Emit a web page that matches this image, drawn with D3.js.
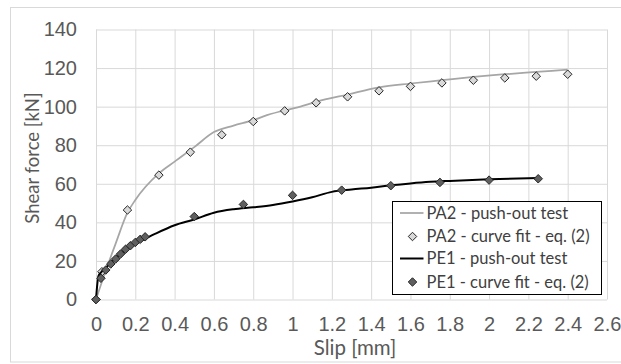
<!DOCTYPE html>
<html>
<head>
<meta charset="utf-8">
<script src="https://cdn.jsdelivr.net/npm/d3@7"></script>
<style>
  body { margin: 0; background: #fff; }
  svg { font-family: Lato, "Open Sans", sans-serif; }
</style>
</head>
<body>
<div class="chart"></div>
<script>
// data
const yTicks = [0, 20, 40, 60, 80, 100, 120, 140];
const xTicks = [0, 0.2, 0.4, 0.6, 0.8, 1, 1.2, 1.4, 1.6, 1.8, 2, 2.2, 2.4, 2.6];

// PA2 push-out test (measured curve)
const pa2TestSlip  = [0, 0.05, 0.1, 0.16, 0.2, 0.32, 0.4, 0.5, 0.6, 0.7, 0.8, 0.87, 1.04, 1.12, 1.28, 1.44, 1.6, 1.76, 1.92, 2.08, 2.24, 2.4];
const pa2TestForce = [0, 15, 29, 45, 51.6, 65.4, 71.5, 79, 86.8, 90.2, 93, 95.6, 100, 102.5, 106.3, 110, 112, 113.7, 115.4, 116.8, 118, 119.2];
// PA2 curve fit eq. (2)
const pa2FitSlip  = [0, 0.03, 0.16, 0.32, 0.48, 0.64, 0.8, 0.96, 1.12, 1.28, 1.44, 1.6, 1.76, 1.92, 2.08, 2.24, 2.4];
const pa2FitForce = [0, 14.4, 46.4, 64.5, 76.4, 85.4, 92.3, 97.8, 102, 105.1, 108.2, 110.5, 112.3, 113.7, 114.9, 115.8, 116.8];

// PE1 push-out test (measured curve)
const pe1TestSlip  = [0, 0.012, 0.025, 0.05, 0.1, 0.15, 0.2, 0.25, 0.3, 0.4, 0.5, 0.6, 0.7, 0.8, 0.9, 1.0, 1.1, 1.2, 1.3, 1.4, 1.5, 1.6, 1.7, 1.8, 2.0, 2.25];
const pe1TestForce = [0, 12, 14, 16.5, 21.5, 25.5, 29, 31.5, 34, 38.5, 41.5, 45, 46.8, 47.8, 49, 50.8, 53, 55.8, 57, 58, 59.2, 60.2, 61, 61.5, 62.3, 63];
// PE1 curve fit eq. (2)
const pe1FitSlip  = [0, 0.025, 0.05, 0.075, 0.1, 0.125, 0.15, 0.175, 0.2, 0.225, 0.25, 0.5, 0.75, 1.0, 1.25, 1.5, 1.75, 2.0, 2.25];
const pe1FitForce = [0, 11, 15.3, 18.4, 21, 23.6, 26, 27.9, 29.6, 31.2, 32.5, 43, 49.3, 54, 56.7, 59, 60.7, 61.9, 62.6];

const legendLabels = ['PA2 - push-out test', 'PA2 - curve fit - eq. (2)', 'PE1 - push-out test', 'PE1 - curve fit - eq. (2)'];

const zip = (xs, ys) => xs.map((x, i) => ({ x: x, y: ys[i] }));

const width = 621, height = 364;
const margin = { top: 29.5, right: 14, bottom: 64.5, left: 96 };
const innerW = width - margin.left - margin.right;
const innerH = height - margin.top - margin.bottom;

const svg = d3.select('.chart').append('svg')
    .attr('width', width).attr('height', height);

// outer chart border
svg.append('rect')
    .attr('x', 10.5).attr('y', 7.5)
    .attr('width', width).attr('height', 354.5)
    .attr('fill', 'none').attr('stroke', '#d9d9d9');

const g = svg.append('g')
    .attr('transform', `translate(${margin.left},${margin.top})`);

const x = d3.scaleLinear().domain([0, 2.6]).range([0, innerW]);
const y = d3.scaleLinear().domain([0, 140]).range([innerH, 0]);

// grid + axes
const xAxis = d3.axisBottom(x).tickValues(xTicks).tickSize(-innerH).tickPadding(18)
    .tickFormat(d => String(d));
const yAxis = d3.axisLeft(y).tickValues(yTicks).tickSize(-innerW).tickPadding(19);

const xg = g.append('g').attr('transform', `translate(0,${innerH})`).call(xAxis);
const yg = g.append('g').call(yAxis);
[xg, yg].forEach(a => {
    a.select('.domain').remove();
    a.selectAll('line').attr('stroke', '#d9d9d9').attr('stroke-width', 1);
    a.selectAll('text').attr('fill', '#595959').style('font-size', '20px');
});
xg.selectAll('text').attr('dy', '0.68em');

const line = d3.line().x(d => x(d.x)).y(d => y(d.y)).curve(d3.curveMonotoneX);
const diamond = d3.symbol().type(d3.symbolDiamond2).size(46);

// PA2
g.append('path').datum(zip(pa2TestSlip, pa2TestForce))
    .attr('d', line).attr('fill', 'none')
    .attr('stroke', '#a6a6a6').attr('stroke-width', 1.75);
g.selectAll('.pa2fit').data(zip(pa2FitSlip, pa2FitForce)).enter()
    .append('path').attr('class', 'pa2fit')
    .attr('d', diamond)
    .attr('transform', d => `translate(${x(d.x)},${y(d.y)})`)
    .attr('fill', '#d9d9d9').attr('stroke', '#262626').attr('stroke-width', 1);

// PE1
g.append('path').datum(zip(pe1TestSlip, pe1TestForce))
    .attr('d', line).attr('fill', 'none')
    .attr('stroke', '#000').attr('stroke-width', 2);
g.selectAll('.pe1fit').data(zip(pe1FitSlip, pe1FitForce)).enter()
    .append('path').attr('class', 'pe1fit')
    .attr('d', diamond)
    .attr('transform', d => `translate(${x(d.x)},${y(d.y)})`)
    .attr('fill', '#5f5f5f').attr('stroke', '#262626').attr('stroke-width', 1);

// axis titles
svg.append('text')
    .attr('transform', 'translate(39,158) rotate(-90)')
    .attr('text-anchor', 'middle')
    .attr('fill', '#595959').style('font-size', '18.5px')
    .text('Shear force [kN]');
svg.append('text')
    .attr('x', 355).attr('y', 355)
    .attr('text-anchor', 'middle')
    .attr('fill', '#595959').style('font-size', '20.5px')
    .text('Slip [mm]');

// legend
const legend = svg.append('g').attr('transform', 'translate(392.5,201.5)');
legend.append('rect').attr('width', 209).attr('height', 93)
    .attr('fill', '#fff').attr('stroke', '#000').attr('stroke-width', 1);
const rowY = [11.5, 35, 57, 80.5];
legendLabels.forEach((label, i) => {
    const row = legend.append('g').attr('transform', `translate(0,${rowY[i]})`);
    if (i % 2 === 0) {
        row.append('line').attr('x1', 7.5).attr('x2', 31).attr('y1', 0).attr('y2', 0)
            .attr('stroke', i === 0 ? '#a6a6a6' : '#000').attr('stroke-width', i === 0 ? 1.75 : 2);
    } else {
        row.append('path').attr('d', diamond).attr('transform', 'translate(20,0)')
            .attr('fill', i === 1 ? '#d9d9d9' : '#5f5f5f')
            .attr('stroke', '#262626');
    }
    row.append('text').attr('x', 34).attr('dy', '0.35em')
        .attr('fill', '#404040').style('font-size', '16.5px')
        .text(label);
});
</script>
</body>
</html>
